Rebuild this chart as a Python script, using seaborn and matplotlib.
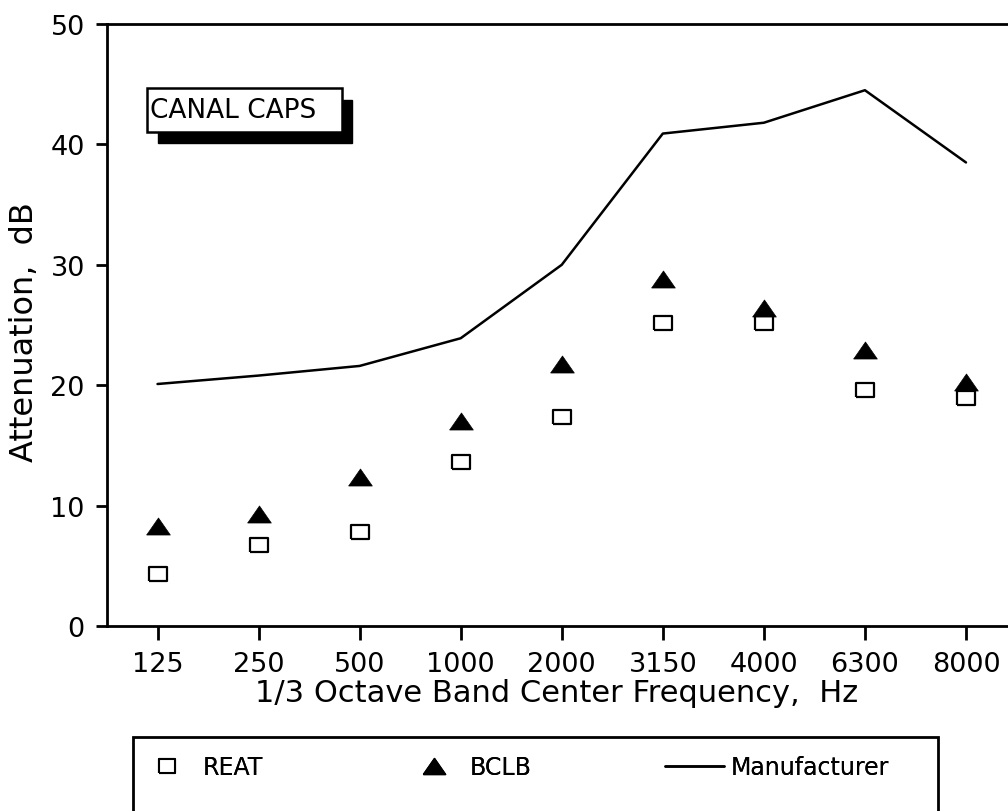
import numpy as np
import pandas as pd
import matplotlib
matplotlib.use("Agg")
import matplotlib.pyplot as plt
from matplotlib.lines import Line2D
from matplotlib.patches import Rectangle
import seaborn as sns

# 1/3 octave band centres and attenuation values (dB)
bands = ["125", "250", "500", "1000", "2000", "3150", "4000", "6300", "8000"]
reat = [4.3, 6.7, 7.8, 13.6, 17.4, 25.2, 25.2, 19.6, 18.9]
bclb = [8.3, 9.3, 12.4, 17.0, 21.8, 28.8, 26.4, 22.9, 20.3]
manufacturer = [20.1, 20.8, 21.6, 23.9, 30.0, 40.9, 41.8, 44.5, 38.5]
y_ticks = [0, 10, 20, 30, 40, 50]

df = pd.DataFrame({
    "pos": np.arange(len(bands)),
    "band": bands,
    "REAT": reat,
    "BCLB": bclb,
    "Manufacturer": manufacturer,
})

sns.set_theme(style="ticks")
plt.rcParams["font.family"] = ["DejaVu Sans"]
plt.rcParams["text.color"] = "black"
plt.rcParams["axes.labelcolor"] = "black"
plt.rcParams["xtick.color"] = "black"
plt.rcParams["ytick.color"] = "black"

W, H = 1008, 812
fig = plt.figure(figsize=(W / 100, H / 100), dpi=100)
ax = fig.add_axes([107 / W, 1 - 627 / H, 909.5 / W, 602 / H])

# slightly wide open rectangle and flattened triangle markers
rect_marker = [(-1, -0.8), (1, -0.8), (1, 0.8), (-1, 0.8), (-1, -0.8)]
tri_marker = [(-1, -0.72), (1, -0.72), (0, 0.72), (-1, -0.72)]

sns.lineplot(data=df, x="pos", y="Manufacturer", ax=ax, color="black",
             linewidth=1.8, sort=False, zorder=2)
sns.scatterplot(data=df, x="pos", y="REAT", ax=ax, marker=rect_marker,
                s=150, facecolor="white", edgecolor="black", linewidth=1.6,
                zorder=3)
sns.scatterplot(data=df, x="pos", y="BCLB", ax=ax, marker=tri_marker,
                s=290, color="black", edgecolor="black", linewidth=0.5,
                zorder=4)

ax.set_xlim(-0.5, len(bands) - 0.5)
ax.set_ylim(0, 50)
ax.set_xticks(df["pos"])
ax.set_xticklabels(bands)
ax.set_yticks(y_ticks)
ax.set_yticklabels([str(v) for v in y_ticks])

for side in ["left", "bottom", "top"]:
    ax.spines[side].set_color("black")
    ax.spines[side].set_linewidth(2)
ax.spines["right"].set_visible(False)
ax.tick_params(axis="x", direction="out", length=10, width=2, pad=8,
               labelsize=19.5)
ax.tick_params(axis="y", direction="out", length=8, width=2, pad=8,
               labelsize=19.5)
ax.grid(False)

ax.set_xlabel("1/3 Octave Band Center Frequency,  Hz", fontsize=22)
ax.set_ylabel("Attenuation,  dB", fontsize=23)
ax.xaxis.set_label_coords(0.494, -0.086)
ax.xaxis.label.set_va("top")
ax.yaxis.set_label_coords(-0.074, 0.49)

# title tag with drop shadow
ax.add_patch(Rectangle((0.056, 0.802), 0.213, 0.072, transform=ax.transAxes,
                       facecolor="black", edgecolor="black", zorder=5))
ax.add_patch(Rectangle((0.044, 0.821), 0.214, 0.073, transform=ax.transAxes,
                       facecolor="white", edgecolor="black", linewidth=1.8,
                       zorder=6))
ax.text(0.047, 0.857, "CANAL CAPS", transform=ax.transAxes, fontsize=19,
        va="center", ha="left", zorder=7)

# legend frame (runs off the bottom of the figure)
fig.add_artist(Rectangle((133 / W, -0.05), (938 - 133) / W, (812 - 738) / H + 0.05,
                         transform=fig.transFigure, fill=False,
                         edgecolor="black", linewidth=2, clip_on=False))

entries = [
    (Line2D([], [], marker=rect_marker, markersize=12, markerfacecolor="white",
            markeredgecolor="black", markeredgewidth=1.5, linestyle="none"),
     "REAT", 137),
    (Line2D([], [], marker=tri_marker, markersize=16, color="black",
            linestyle="none"),
     "BCLB", 404),
    (Line2D([], [], color="black", linewidth=1.8), "Manufacturer", 665),
]
for handle, label, x0 in entries:
    leg = fig.legend([handle], [label], loc="center left",
                     bbox_to_anchor=(x0 / W, 1 - 768 / H), frameon=False,
                     fontsize=17, handlelength=2.5, handletextpad=0.3,
                     borderpad=0, borderaxespad=0)
    fig.add_artist(leg)

fig.savefig("out.png", dpi=100, facecolor="white")
